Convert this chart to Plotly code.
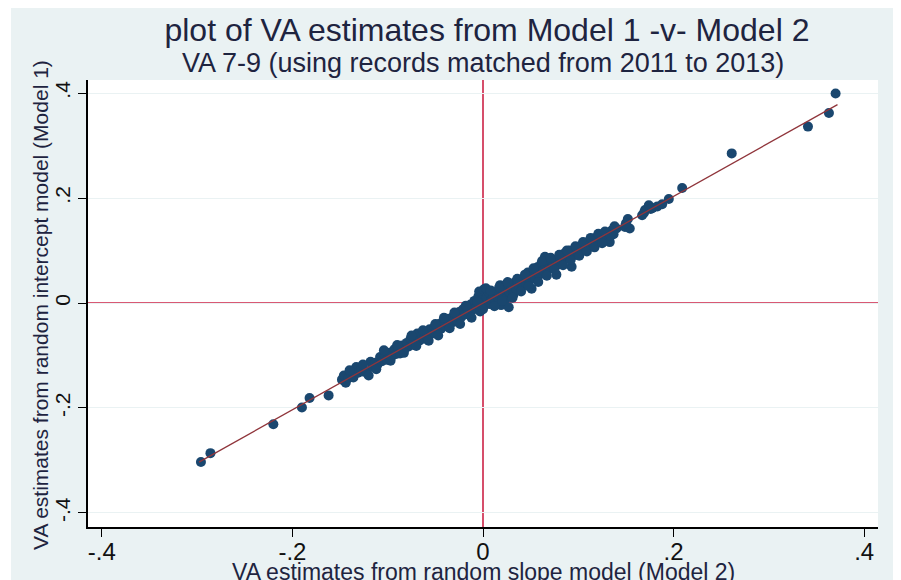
import plotly.graph_objects as go

# VA estimates: Model 2 (random slope) on x, Model 1 (random intercept) on y
va_model2 = [
    -0.296, -0.286, -0.220, -0.190, -0.182, -0.162,
    -0.148, -0.146, -0.144, -0.141, -0.138, -0.136, -0.133, -0.131, -0.128, -0.125,
    -0.122, -0.120, -0.118, -0.116, -0.113, -0.111, -0.108, -0.106, -0.103, -0.101,
    -0.098, -0.096, -0.093, -0.091, -0.089, -0.087, -0.085, -0.082, -0.080, -0.078,
    -0.076, -0.074, -0.071, -0.069, -0.067, -0.064, -0.062, -0.060, -0.058, -0.056,
    -0.053, -0.051, -0.049, -0.046, -0.044, -0.042, -0.040, -0.038, -0.036, -0.033,
    -0.031, -0.029, -0.027, -0.025, -0.023, -0.021, -0.019, -0.017, -0.015, -0.013,
    -0.011, -0.009, -0.007, -0.005, -0.004, -0.003, -0.001, 0.001, 0.002, 0.004,
    0.006, 0.007, 0.009, 0.011, 0.013, 0.015, 0.016, 0.018, 0.019, 0.021,
    0.022, 0.024, 0.025, 0.027, 0.028, 0.030, 0.032, 0.034, 0.035, 0.037,
    0.039, 0.041, 0.043, 0.045, 0.047, 0.049, 0.051, 0.052, 0.054, 0.055,
    0.057, 0.059, 0.061, 0.063, 0.065, 0.066, 0.068, 0.070, 0.072, 0.074,
    0.076, 0.077, 0.079, 0.081, 0.083, 0.085, 0.087, 0.089, 0.091, 0.093,
    0.094, 0.096, 0.098, 0.100, 0.102, 0.104, 0.106, 0.108, 0.110, 0.112,
    0.114, 0.116, 0.118, 0.120, 0.122, 0.124, 0.127, 0.130, 0.133, 0.135,
    0.137, 0.140, 0.149, 0.152, 0.154, 0.167, 0.170, 0.174, 0.178, 0.183,
    0.188, 0.195, 0.209, 0.261, 0.341, 0.363, 0.370,
    -0.140, -0.126, -0.112, -0.104, -0.097, -0.090, -0.083, -0.075, -0.070, -0.063,
    -0.057, -0.050, -0.047, -0.041, -0.035, -0.030, -0.024, -0.018, -0.012, -0.006,
    0.000, 0.003, 0.008, 0.012, 0.017, 0.020, 0.026, 0.031, 0.036, 0.040,
    0.044, 0.048, 0.053, 0.058, 0.062, 0.067, 0.071, 0.075, 0.080, 0.084,
    0.088, 0.092, 0.097, 0.101, 0.105, 0.109, 0.113, 0.117, 0.121, 0.125,
    0.128, 0.134, 0.138, 0.150, 0.169, 0.176,
]
va_model1 = [
    -0.303, -0.286, -0.231, -0.199, -0.181, -0.176,
    -0.146, -0.138, -0.152, -0.143, -0.135, -0.142, -0.122, -0.133, -0.127, -0.131,
    -0.130, -0.138, -0.112, -0.121, -0.114, -0.118, -0.103, -0.111, -0.100, -0.108,
    -0.095, -0.102, -0.088, -0.097, -0.085, -0.096, -0.081, -0.087, -0.076, -0.083,
    -0.068, -0.079, -0.066, -0.058, -0.072, -0.060, -0.068, -0.055, -0.066, -0.050,
    -0.058, -0.046, -0.055, -0.040, -0.049, -0.036, -0.044, -0.030, -0.040, -0.028,
    -0.036, -0.024, -0.033, -0.017, -0.027, -0.012, -0.022, -0.008, -0.018, -0.003,
    -0.013, 0.004, -0.008, 0.012, 0.022, -0.016, 0.005, 0.026, -0.004, 0.011,
    0.020, -0.002, 0.006, 0.014, 0.002, 0.022, 0.010, 0.034, -0.004, 0.017,
    0.028, 0.008, 0.037, -0.008, 0.020, 0.030, 0.016, 0.040, 0.026, 0.034,
    0.044, 0.032, 0.047, 0.038, 0.058, 0.044, 0.027, 0.052, 0.060, 0.046,
    0.068, 0.054, 0.074, 0.062, 0.088, 0.068, 0.076, 0.066, 0.080, 0.072,
    0.082, 0.054, 0.074, 0.086, 0.080, 0.094, 0.085, 0.092, 0.100, 0.069,
    0.090, 0.098, 0.104, 0.094, 0.108, 0.100, 0.112, 0.105, 0.116, 0.110,
    0.118, 0.112, 0.124, 0.117, 0.128, 0.121, 0.130, 0.124, 0.116, 0.138,
    0.131, 0.142, 0.145, 0.160, 0.142, 0.167, 0.177, 0.186, 0.181, 0.184,
    0.188, 0.198, 0.219, 0.285, 0.336, 0.362, 0.399,
    -0.128, -0.117, -0.126, -0.090, -0.110, -0.080, -0.095, -0.062, -0.082, -0.052,
    -0.072, -0.040, -0.062, -0.028, -0.048, -0.018, -0.040, -0.005, -0.028, 0.002,
    -0.012, 0.028, 0.024, -0.006, 0.030, 0.004, 0.040, 0.010, 0.046, 0.022,
    0.054, 0.032, 0.066, 0.040, 0.080, 0.052, 0.086, 0.064, 0.092, 0.072,
    0.100, 0.082, 0.108, 0.090, 0.116, 0.098, 0.124, 0.106, 0.132, 0.114,
    0.136, 0.128, 0.146, 0.152, 0.172, 0.179,
]

# fitted line endpoints
fit_x = [-0.298, 0.372]
fit_y = [-0.303, 0.378]

x_ticks = [-0.4, -0.2, 0, 0.2, 0.4]
x_labels = ['-.4', '-.2', '0', '.2', '.4']
y_ticks = [-0.4, -0.2, 0, 0.2, 0.4]
y_labels = ['-.4', '-.2', '0', '.2', '.4']

navy = '#1a476f'
maroon = '#90353b'
refred = '#cc2246'
region = '#eaf2f3'
ink = '#1e2440'
font = 'Liberation Sans, Arial, sans-serif'

fig = go.Figure()

fig.add_trace(go.Scatter(x=va_model2, y=va_model1, mode='markers',
                         marker=dict(color=navy, size=10, line=dict(width=0)),
                         name='VA'))
fig.add_trace(go.Scatter(x=fit_x, y=fit_y, mode='lines',
                         line=dict(color=maroon, width=1.3), name='fit'))

# reference lines at zero
fig.add_vline(x=0, line=dict(color=refred, width=1.6), layer='below')
fig.add_hline(y=0, line=dict(color=refred, width=1.6), layer='below')

fig.update_xaxes(range=[-0.4145, 0.4145], tickvals=x_ticks, ticktext=x_labels,
                 showgrid=False, zeroline=False, showline=True, linecolor='black',
                 linewidth=1.5, ticks='outside', ticklen=8, tickcolor='black',
                 ticklabelstandoff=-6,
                 tickfont=dict(size=24, color='#111'))
fig.update_yaxes(range=[-0.4267, 0.4248], tickvals=y_ticks, ticktext=y_labels,
                 showgrid=True, gridcolor=region, gridwidth=1, zeroline=False,
                 showline=True, linecolor='black', linewidth=1.5, ticks='outside',
                 ticklen=8, tickcolor='black', tickangle=-90,
                 tickfont=dict(size=21, color='#111'))

# white strip at the left / right of the grey-blue graph region
fig.add_shape(type='rect', xref='paper', yref='paper', x0=-0.11, x1=-0.0975,
              y0=-0.2, y1=1.2, fillcolor='white', line_width=0, layer='below')
fig.add_shape(type='rect', xref='paper', yref='paper', x0=1.0253, x1=1.04,
              y0=-0.2, y1=1.2, fillcolor='white', line_width=0, layer='below')

fig.add_annotation(text='VA 7-9 (using records matched from 2011 to 2013)',
                   xref='paper', yref='paper', x=0.5, y=1.038, showarrow=False,
                   xanchor='center', yanchor='middle',
                   font=dict(size=27, color=ink, family=font))
fig.add_annotation(text='VA estimates from random slope model (Model 2)',
                   xref='paper', yref='paper', x=0.5, y=-0.1007, showarrow=False,
                   xanchor='center', yanchor='middle',
                   font=dict(size=23, color=ink, family=font))
fig.add_annotation(text='VA estimates from random intercept model (Model 1)',
                   xref='paper', yref='paper', x=-0.0608, y=0.4966, showarrow=False,
                   textangle=-90, xanchor='center', yanchor='middle',
                   font=dict(size=21, color=ink, family=font))

fig.update_layout(
    width=893, height=572,
    margin=dict(l=80, r=23, t=72, b=53),
    paper_bgcolor=region, plot_bgcolor='white',
    showlegend=False,
    font=dict(family=font, color='#111'),
    title=dict(text='plot of VA estimates from Model 1 -v- Model 2',
               x=0.505, xref='paper', y=1 - 22 / 572, yanchor='middle',
               font=dict(size=32, color=ink, family=font)),
)

fig.write_html("out.html")
